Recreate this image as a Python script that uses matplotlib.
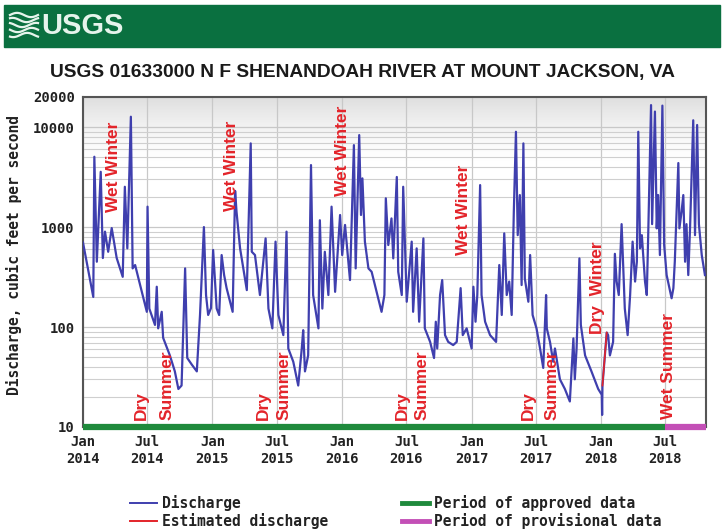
import numpy as np
import pandas as pd
import matplotlib
matplotlib.use("Agg")
import matplotlib.pyplot as plt
import matplotlib.dates as mdates
from matplotlib.ticker import FixedLocator, NullFormatter, FixedFormatter
from matplotlib.lines import Line2D

# ---- data -------------------------------------------------------------
discharge_dates = [
    "2014-01-01", "2014-01-30", "2014-02-02", "2014-02-09", "2014-02-20", "2014-02-26",
    "2014-03-04", "2014-03-13", "2014-03-23", "2014-04-06", "2014-04-23", "2014-04-29",
    "2014-05-06", "2014-05-16", "2014-05-21", "2014-05-28", "2014-06-30", "2014-07-02",
    "2014-07-07", "2014-07-23", "2014-07-28", "2014-08-01", "2014-08-11", "2014-08-15",
    "2014-09-03", "2014-09-17", "2014-09-27", "2014-10-06", "2014-10-16", "2014-10-22",
    "2014-11-04", "2014-11-18", "2014-11-27", "2014-12-08", "2014-12-14", "2014-12-20",
    "2014-12-28", "2015-01-03", "2015-01-13", "2015-01-20", "2015-01-27", "2015-02-03",
    "2015-02-10", "2015-02-27", "2015-03-06", "2015-03-10", "2015-03-20", "2015-04-08",
    "2015-04-19", "2015-04-22", "2015-05-01", "2015-05-15", "2015-05-31", "2015-06-08",
    "2015-06-19", "2015-06-28", "2015-07-06", "2015-07-20", "2015-07-29", "2015-08-03",
    "2015-08-17", "2015-08-31", "2015-09-10", "2015-09-14", "2015-09-19", "2015-09-28",
    "2015-10-06", "2015-10-12", "2015-10-27", "2015-10-31", "2015-11-07", "2015-11-14",
    "2015-11-24", "2015-12-03", "2015-12-13", "2015-12-27", "2016-01-02", "2016-01-10",
    "2016-01-24", "2016-02-04", "2016-02-09", "2016-02-19", "2016-02-24", "2016-02-28",
    "2016-03-06", "2016-03-16", "2016-03-25", "2016-04-22", "2016-04-30", "2016-05-04",
    "2016-05-11", "2016-05-20", "2016-05-25", "2016-06-04", "2016-06-08", "2016-06-18",
    "2016-06-22", "2016-07-02", "2016-07-16", "2016-07-20", "2016-07-30", "2016-08-06",
    "2016-08-18", "2016-08-22", "2016-09-06", "2016-09-17", "2016-09-22", "2016-09-26",
    "2016-10-04", "2016-10-10", "2016-10-18", "2016-10-27", "2016-11-10", "2016-11-20",
    "2016-12-01", "2016-12-07", "2016-12-18", "2017-01-01", "2017-01-06", "2017-01-12",
    "2017-01-17", "2017-01-25", "2017-01-29", "2017-02-08", "2017-02-22", "2017-03-11",
    "2017-03-20", "2017-03-27", "2017-04-03", "2017-04-10", "2017-04-17", "2017-04-24",
    "2017-04-30", "2017-05-06", "2017-05-11", "2017-05-17", "2017-05-22", "2017-05-27",
    "2017-05-31", "2017-06-10", "2017-06-15", "2017-06-22", "2017-07-03", "2017-07-13",
    "2017-07-22", "2017-07-30", "2017-08-01", "2017-08-10", "2017-08-19", "2017-08-24",
    "2017-09-07", "2017-09-21", "2017-10-05", "2017-10-15", "2017-10-19", "2017-10-24",
    "2017-11-01", "2017-11-05", "2017-11-17", "2017-12-05", "2017-12-24", "2018-01-03",
    "2018-01-04", "2018-01-05", "2018-01-17", "2018-01-21", "2018-01-26", "2018-02-04",
    "2018-02-09", "2018-02-14", "2018-02-20", "2018-02-28", "2018-03-09", "2018-03-17",
    "2018-03-24", "2018-03-31", "2018-04-07", "2018-04-12", "2018-04-16", "2018-04-21",
    "2018-04-26", "2018-05-05", "2018-05-10", "2018-05-14", "2018-05-22", "2018-05-25",
    "2018-06-02", "2018-06-07", "2018-06-11", "2018-06-16", "2018-06-23", "2018-06-28",
    "2018-07-05", "2018-07-19", "2018-07-24", "2018-07-28", "2018-08-07", "2018-08-10",
    "2018-08-16", "2018-08-21", "2018-08-26", "2018-08-30", "2018-09-04", "2018-09-09",
    "2018-09-18", "2018-09-23", "2018-09-29", "2018-10-04", "2018-10-12", "2018-10-21",
]
discharge_cfs = [
    700, 200, 5050, 450, 3570, 490,
    900, 566, 977, 490, 318, 2530,
    612, 12700, 386, 417, 142, 1600,
    153, 105, 253, 97, 142, 78,
    52, 36, 24, 26, 386, 49,
    42, 36, 132, 1000, 209, 132,
    155, 590, 153, 132, 525, 331,
    245, 142, 2300, 1420, 612, 234,
    6870, 566, 525, 209, 770, 153,
    97, 715, 132, 83, 900, 61,
    45, 26, 61, 93, 36, 52,
    4170, 209, 97, 1170, 153, 566,
    209, 1600, 225, 1320, 525, 1050,
    295, 6600, 386, 8320, 1320, 3070,
    715, 386, 357, 142, 209, 1940,
    661, 1220, 486, 3170, 357, 209,
    2530, 179, 715, 142, 612, 113,
    770, 97, 71, 49, 113, 61,
    209, 295, 83, 71, 66, 71,
    245, 83, 97, 61, 253, 113,
    209, 2630, 209, 113, 83, 71,
    417, 132, 865, 209, 285, 132,
    1420, 8980, 830, 2090, 263, 6870,
    306, 179, 525, 132, 97, 61,
    39, 209, 97, 71, 45, 61,
    30, 24, 18, 77, 30, 61,
    486, 105, 52, 36, 24, 21,
    13.2, 26, 88, 83, 52, 71,
    540, 285, 209, 1070, 153, 83,
    209, 715, 285, 450, 8980, 612,
    830, 285, 209, 830, 16600, 1070,
    14300, 970, 2090, 525, 16400, 661,
    331, 194, 245, 450, 4370, 970,
    1420, 2090, 450, 1070, 331, 970,
    11700, 830, 10500, 1070, 525, 331,
]

estimated_dates = ["2018-01-05", "2018-01-17"]
estimated_cfs = [26, 88]

approved_period = ("2014-01-01", "2018-07-01")
provisional_period = ("2018-07-01", "2018-10-24")

# seasonal labels: (text, date, discharge, vertical anchor)
season_labels = [
    ("Wet Winter", "2014-03-27", 3980, "center"),
    ("Wet Winter", "2015-02-25", 4070, "center"),
    ("Wet Winter", "2016-01-04", 5750, "center"),
    ("Wet Winter", "2016-12-08", 1480, "center"),
    ("Dry  Winter", "2017-12-21", 250, "center"),
    ("Dry", "2014-06-14", 11.7, "bottom"),
    ("Summer", "2014-08-26", 11.7, "bottom"),
    ("Dry", "2015-05-24", 11.7, "bottom"),
    ("Summer", "2015-07-22", 11.7, "bottom"),
    ("Dry", "2016-06-19", 11.7, "bottom"),
    ("Summer", "2016-08-14", 11.7, "bottom"),
    ("Dry", "2017-06-09", 11.7, "bottom"),
    ("Summer", "2017-08-16", 11.7, "bottom"),
    ("Wet Summer", "2018-07-09", 12.0, "bottom"),
]

y_ticks = [10, 100, 1000, 10000, 20000]
y_tick_labels = ["10", "100", "1000", "10000", "20000"]
x_start, x_end = "2014-01-01", "2018-10-24"

# ---- styling ----------------------------------------------------------
MONO = ["DejaVu Sans Mono"]
SANS = ["Liberation Sans", "DejaVu Sans"]
BLUE = "#3f3fae"
RED = "#e3242a"
GREEN = "#1f8a3c"
MAGENTA = "#c34fb6"

fig = plt.figure(figsize=(7.25, 5.31), dpi=100)
W, H = 725, 531

# header band
fig.patches.append(plt.Rectangle((4 / W, 1 - 47 / H), 716 / W, 42 / H,
                                 transform=fig.transFigure, color="#0a7040", zorder=0))
fig.text(41 / W, 1 - 26 / H, "USGS", color="#e6f4ec", fontsize=21, fontweight="bold",
         family=["Liberation Sans", "DejaVu Sans"], ha="left", va="center")
# wave mark of the logo
t = np.linspace(0, 1, 40)
for k in range(5):
    yy = 1 - (15 + k * 5.0) / H + 0.004 * np.sin(t * np.pi * 2 + k)
    xx = (10 + t * 28) / W
    fig.add_artist(Line2D(xx, yy, transform=fig.transFigure, color="#e6f4ec", lw=1.6))

fig.text(0.5, 1 - 72 / H, "USGS 01633000 N F SHENANDOAH RIVER AT MOUNT JACKSON, VA",
         ha="center", va="center", fontsize=13.8, fontweight="bold", family=SANS,
         color="#1a1a1a")

ax = fig.add_axes([83 / W, 1 - 427 / H, (706 - 83) / W, (427 - 97) / H])
ax.set_yscale("log")
xs = pd.to_datetime([x_start, x_end])
ax.set_xlim(xs[0], xs[1])
ax.set_ylim(10, 20000)

# faint shading along the top of the plot area
grad = np.ones((100, 2, 4))
alpha = np.linspace(0.0, 1.0, 100) ** 1.5
grad[..., :3] = 0.86
grad[..., 3] = alpha[:, None] * 0.9
ax.imshow(grad, extent=[0, 1, 0.80, 1.0], transform=ax.transAxes, aspect="auto",
          origin="lower", zorder=0)

# grid
minor = [m * 10 ** e for e in range(1, 5) for m in range(2, 10) if m * 10 ** e < 20000]
ax.yaxis.set_major_locator(FixedLocator(y_ticks))
ax.yaxis.set_major_formatter(FixedFormatter(y_tick_labels))
ax.yaxis.set_minor_locator(FixedLocator(minor))
ax.yaxis.set_minor_formatter(NullFormatter())
ax.xaxis.set_major_locator(mdates.MonthLocator(bymonth=[1, 7]))
ax.xaxis.set_major_formatter(mdates.DateFormatter("%b\n%Y"))
ax.grid(True, which="major", axis="both", color="#c8c8c8", lw=0.9, zorder=1)
ax.grid(True, which="minor", axis="y", color="#cfcfcf", lw=0.8, zorder=1)
ax.set_axisbelow(True)

ax.plot(pd.to_datetime(discharge_dates), discharge_cfs, color=BLUE, lw=1.6, zorder=3)
ax.plot(pd.to_datetime(estimated_dates), estimated_cfs, color=RED, lw=1.2, zorder=4)

# data-status bars along the bottom
ax.plot(pd.to_datetime(list(approved_period)), [10, 10], color=GREEN, lw=4.5,
        solid_capstyle="butt", zorder=5, clip_on=False)
ax.plot(pd.to_datetime(list(provisional_period)), [10, 10], color=MAGENTA, lw=4.5,
        solid_capstyle="butt", zorder=5, clip_on=False)

for text, d, v, va in season_labels:
    ax.text(pd.Timestamp(d), v, text, rotation=90, ha="center", va=va, color=RED,
            fontsize=12.5, fontweight="bold", family=SANS, zorder=6)

for s in ax.spines.values():
    s.set_color("#555555")
    s.set_linewidth(1.5)
ax.tick_params(which="both", length=0, pad=6)
for lab in ax.get_xticklabels() + ax.get_yticklabels():
    lab.set_family(MONO)
    lab.set_fontweight("bold")
    lab.set_fontsize(10)
    lab.set_color("#222222")

fig.text(14 / W, 1 - 255 / H, "Discharge, cubic feet per second", rotation=90,
         ha="center", va="center", family=MONO, fontweight="bold", fontsize=10.5,
         color="#222222")

# legend
legend_rows = [
    (130, 503, BLUE, "Discharge"),
    (130, 521, RED, "Estimated discharge"),
    (402, 503, GREEN, "Period of approved data"),
    (402, 521, MAGENTA, "Period of provisional data"),
]
for x0, y0, col, lab in legend_rows:
    lw = 1.4 if col in (BLUE, RED) else 3.5
    fig.add_artist(Line2D([x0 / W, (x0 + 27) / W], [1 - y0 / H, 1 - y0 / H],
                          transform=fig.transFigure, color=col, lw=lw))
    fig.text((x0 + 32) / W, 1 - y0 / H, lab, ha="left", va="center", family=MONO,
             fontweight="bold", fontsize=10.5, color="#222222")

fig.savefig("out.png", dpi=100)
